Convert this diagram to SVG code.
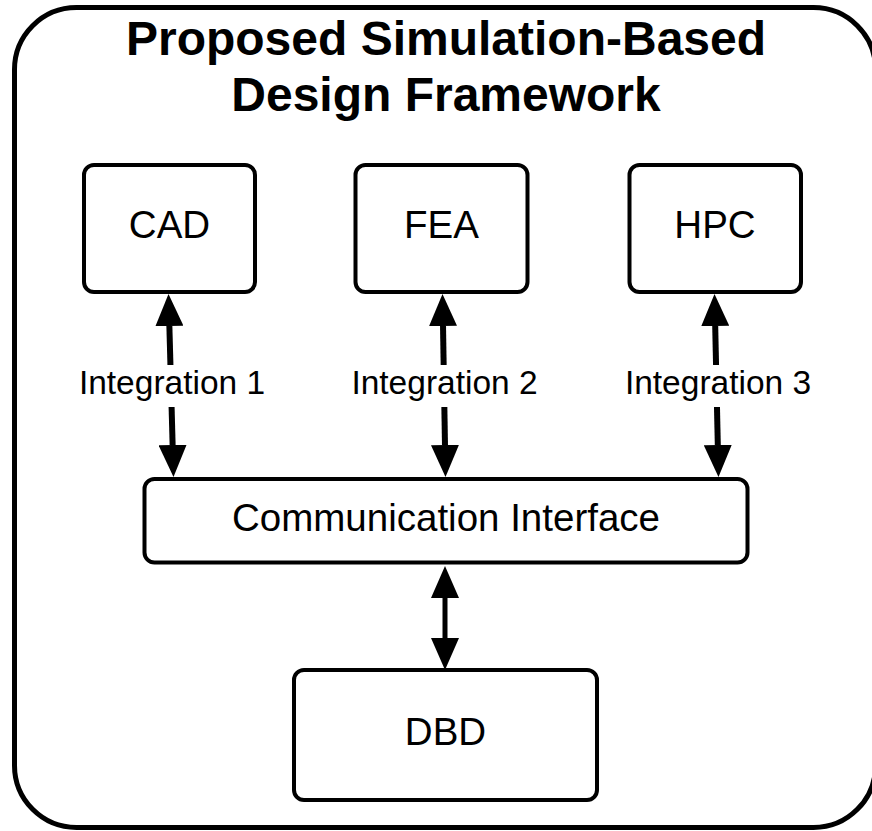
<svg xmlns="http://www.w3.org/2000/svg" width="872" height="831" viewBox="0 0 872 831">
  <style>
    .frame { fill: #ffffff; stroke: #000000; stroke-width: 5; }
    .box { fill: #ffffff; stroke: #000000; stroke-width: 4; }
    .title { font-family: "Liberation Sans", Arial, sans-serif; font-weight: bold; font-size: 48px; fill: #000000; text-anchor: middle; }
    .label { font-family: "Liberation Sans", Arial, sans-serif; font-size: 38.5px; fill: #000000; text-anchor: middle; }
    .conn-label { font-family: "Liberation Sans", Arial, sans-serif; font-size: 33.5px; fill: #000000; text-anchor: middle; }
    .arrow { fill: none; stroke: #000000; stroke-width: 6; }
    .arrow-thin { fill: none; stroke: #000000; stroke-width: 5; }
  </style>
  <defs>
    <marker id="head" viewBox="0 0 32 28" refX="0" refY="14" markerWidth="32" markerHeight="28" markerUnits="userSpaceOnUse" orient="auto-start-reverse">
      <path d="M0,0 L32,14 L0,28 Z" fill="#000000"/>
    </marker>
  </defs>

  <rect width="872" height="831" fill="#ffffff"/>

  <g id="framework">
    <rect class="frame" x="14.5" y="7.5" width="861" height="820" rx="62" ry="62"/>
    <text class="title" x="446" y="55">Proposed Simulation-Based</text>
    <text class="title" x="446" y="111">Design Framework</text>
  </g>

  <g id="cad">
    <rect class="box" x="84" y="165" width="171" height="127" rx="10" ry="10"/>
    <text class="label" x="169.5" y="238">CAD</text>
  </g>

  <g id="fea">
    <rect class="box" x="355.5" y="165" width="172" height="127" rx="10" ry="10"/>
    <text class="label" x="441.5" y="238">FEA</text>
  </g>

  <g id="hpc">
    <rect class="box" x="629.5" y="165" width="171.5" height="127" rx="10" ry="10"/>
    <text class="label" x="715" y="238">HPC</text>
  </g>

  <g id="communication-interface">
    <rect class="box" x="144.5" y="479" width="603" height="83.5" rx="10" ry="10"/>
    <text class="label" x="446" y="531">Communication Interface</text>
  </g>

  <g id="dbd">
    <rect class="box" x="294" y="670" width="303" height="130" rx="10" ry="10"/>
    <text class="label" x="445.5" y="745">DBD</text>
  </g>

  <g id="connectors">
    <!-- CAD <-> Communication Interface -->
    <path class="arrow" d="M169.37,326 L170.44,365" marker-start="url(#head)"/>
    <path class="arrow" d="M171.59,407 L172.63,445" marker-end="url(#head)"/>
    <text class="conn-label" x="172" y="394">Integration 1</text>

    <!-- FEA <-> Communication Interface -->
    <path class="arrow" d="M443.02,326 L443.66,365" marker-start="url(#head)"/>
    <path class="arrow" d="M444.35,407 L444.98,445" marker-end="url(#head)"/>
    <text class="conn-label" x="444.5" y="394">Integration 2</text>

    <!-- HPC <-> Communication Interface -->
    <path class="arrow" d="M715.2,326 L716.05,365" marker-start="url(#head)"/>
    <path class="arrow" d="M716.97,407 L717.8,445" marker-end="url(#head)"/>
    <text class="conn-label" x="718" y="394">Integration 3</text>

    <!-- Communication Interface <-> DBD -->
    <path class="arrow-thin" d="M445,598 L445,638" marker-start="url(#head)" marker-end="url(#head)"/>
  </g>
</svg>
